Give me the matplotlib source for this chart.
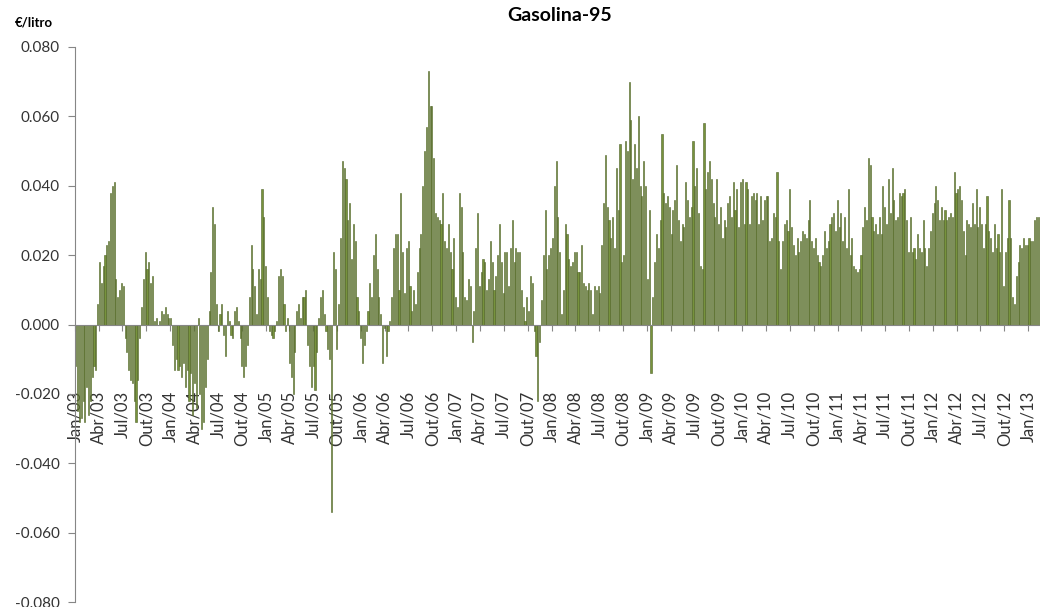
import numpy as np
import pandas as pd
import matplotlib
matplotlib.use("Agg")
import matplotlib.pyplot as plt
import matplotlib.dates as mdates

# weekly change in gasoline-95 price (EUR/litre), one list per year
v2003 = [-0.012, -0.025, -0.028, -0.027, -0.022, -0.028, -0.018, -0.026, -0.022, -0.015, -0.012, -0.013,
         0.006, 0.018, 0.012, 0.017, 0.020, 0.023, 0.024, 0.038, 0.040, 0.041, 0.013, 0.008, 0.010, 0.012, 0.011,
         -0.004, -0.008, -0.013, -0.016, -0.017, -0.022, -0.028, -0.016, -0.004,
         0.005, 0.013, 0.021, 0.016, 0.018, 0.012, 0.014, 0.001, 0.002, 0.000, 0.001, 0.004, 0.003, 0.005, 0.003, 0.002]
v2004 = [0.002,
         -0.006, -0.013, -0.010, -0.013, -0.012, -0.015, -0.011, -0.018, -0.013, -0.022,
         -0.014, -0.026, -0.017, -0.024, 0.002, -0.020, -0.030, -0.028, -0.018, -0.010,
         0.004, 0.015, 0.034, 0.029, 0.006,
         -0.002, 0.003, 0.006, -0.003, -0.009,
         0.004, 0.001, -0.003, -0.004, 0.004, 0.005, 0.001,
         -0.004, -0.012, -0.015, -0.012, -0.006,
         0.008, 0.023, 0.016, 0.011, 0.003, 0.016, 0.013, 0.039, 0.031]
v2005 = [0.017, 0.008,
         -0.002, -0.003, -0.004, -0.002, 0.001,
         0.014, 0.016, 0.014, 0.006,
         -0.002, 0.002,
         -0.011, -0.015, -0.020, -0.008,
         0.004, 0.006, 0.002, 0.008, 0.008, 0.010,
         -0.006, -0.012, -0.018, -0.012, -0.019, -0.008,
         0.002, 0.008, 0.010, 0.003,
         -0.002, -0.007, -0.010,
         -0.054,
         0.021, 0.016, -0.007, 0.006, 0.025, 0.047, 0.045, 0.042, 0.030, 0.035, 0.019, 0.029, 0.024, 0.008, 0.004]
v2006 = [-0.004, -0.011, -0.006, -0.002,
         0.004, 0.012, 0.008, 0.020, 0.026, 0.016, 0.008, 0.003,
         -0.011, -0.001, -0.009, -0.002,
         0.001, 0.008, 0.022, 0.026,
         0.026, 0.010, 0.038, 0.021, 0.009, 0.022, 0.024,
         0.011, 0.004, 0.010, 0.006,
         0.015, 0.022, 0.026, 0.040, 0.050,
         0.057, 0.073, 0.063, 0.063,
         0.048, 0.032, 0.031, 0.030,
         0.029, 0.038, 0.024, 0.022, 0.029, 0.021, 0.016, 0.025]
v2007 = [0.008, 0.005, 0.038, 0.034, 0.021,
         0.008, 0.007, 0.013, 0.011, -0.005,
         0.004, 0.022, 0.032, 0.011, 0.015,
         0.019, 0.018, 0.010, 0.013, 0.024,
         0.018, 0.010, 0.014, 0.020, 0.029, 0.018,
         0.009, 0.021, 0.021, 0.011, 0.022, 0.030,
         0.018, 0.022, 0.021, 0.021, 0.010,
         0.005, 0.001, 0.008, 0.004, 0.014, 0.012,
         -0.002, -0.009, -0.022, -0.005,
         0.007, 0.020, 0.033, 0.016, 0.020]
v2008 = [0.022, 0.025, 0.040, 0.047, 0.031,
         0.021, 0.003, 0.010, 0.029, 0.026,
         0.019, 0.017, 0.018, 0.021, 0.021,
         0.015, 0.015, 0.023, 0.012, 0.011, 0.010,
         0.012, 0.010, 0.003, 0.011, 0.010, 0.011, 0.009,
         0.023, 0.035, 0.049, 0.034, 0.030, 0.025,
         0.031, 0.022, 0.045, 0.033, 0.052, 0.018,
         0.020, 0.053, 0.050, 0.070, 0.059, 0.042,
         0.052, 0.045, 0.060, 0.040, 0.037, 0.047]
v2009 = [0.040, 0.013, 0.033, -0.014,
         0.008, 0.018, 0.026, 0.022, 0.030, 0.055, 0.038, 0.035,
         0.037, 0.034, 0.026, 0.033, 0.036, 0.046, 0.030,
         0.024, 0.029, 0.028, 0.041, 0.036,
         0.031, 0.034, 0.053, 0.040, 0.045,
         0.032, 0.017, 0.016, 0.058, 0.039, 0.044,
         0.047, 0.042, 0.035, 0.031, 0.042,
         0.029, 0.034, 0.025, 0.030, 0.028, 0.035, 0.037,
         0.031, 0.041, 0.033, 0.039, 0.028]
v2010 = [0.041, 0.042, 0.029, 0.041, 0.039, 0.029, 0.037, 0.038,
         0.036, 0.038, 0.029, 0.037, 0.030, 0.036, 0.037,
         0.037, 0.024, 0.025, 0.032, 0.031, 0.044,
         0.024, 0.016, 0.024, 0.029, 0.030,
         0.027, 0.039, 0.028, 0.023, 0.020, 0.025,
         0.021, 0.024, 0.027, 0.026, 0.025,
         0.030, 0.036, 0.024, 0.022, 0.025, 0.020,
         0.018, 0.017, 0.020, 0.027, 0.022,
         0.024, 0.029, 0.031, 0.032]
v2011 = [0.027, 0.036, 0.028, 0.032,
         0.024, 0.031, 0.022, 0.039, 0.020, 0.025, 0.017,
         0.016, 0.015, 0.016, 0.020, 0.028, 0.034, 0.030,
         0.048, 0.046, 0.031, 0.027, 0.029, 0.026, 0.031,
         0.026, 0.040, 0.034, 0.029, 0.042, 0.032, 0.045, 0.036,
         0.030, 0.031, 0.038, 0.037, 0.038, 0.039, 0.030,
         0.021, 0.031, 0.021, 0.022, 0.019, 0.026,
         0.022, 0.021, 0.030, 0.022, 0.017, 0.022]
v2012 = [0.027, 0.032, 0.035, 0.040, 0.036,
         0.030, 0.034, 0.030, 0.033, 0.030, 0.031,
         0.032, 0.031, 0.044, 0.038, 0.039, 0.040, 0.036,
         0.027, 0.020, 0.030, 0.029, 0.028, 0.035, 0.029,
         0.039, 0.028, 0.034, 0.029, 0.022, 0.029, 0.037,
         0.027, 0.025, 0.021, 0.029, 0.022, 0.026, 0.021,
         0.039, 0.011, 0.021, 0.025, 0.036, 0.025,
         0.008, 0.006, 0.014, 0.018, 0.023, 0.022, 0.025]
v2013 = [0.023, 0.023, 0.025, 0.024, 0.024, 0.030, 0.031, 0.031]

meses = ["Jan", "Abr", "Jul", "Out"]
y_ticks = [-0.08, -0.06, -0.04, -0.02, 0.0, 0.02, 0.04, 0.06, 0.08]

valores = np.array(v2003 + v2004 + v2005 + v2006 + v2007 + v2008 +
                   v2009 + v2010 + v2011 + v2012 + v2013)
semanas = pd.date_range("2003-01-03", periods=len(valores), freq="7D")
trimestres = pd.date_range("2003-01-01", "2013-01-01", freq="QS")
rotulos = ["%s/%02d" % (meses[(d.month - 1) // 3], d.year % 100) for d in trimestres]

plt.rcParams["font.family"] = ["Lato", "DejaVu Sans"]

fig = plt.figure(figsize=(10.4, 6.07), dpi=100)
ax = fig.add_axes([0.0721, 0.0082, 0.9279, 0.9144])

x = mdates.date2num(semanas)
ax.bar(x, valores, width=4.2, color="#77933c", edgecolor="#4f6228", linewidth=0.4, zorder=2)

# spines first: moving a spine resets the tick objects
for s in ["top", "right"]:
    ax.spines[s].set_visible(False)
ax.spines["bottom"].set_position(("data", 0))
ax.spines["bottom"].set_color("#868686")
ax.spines["bottom"].set_zorder(3)
ax.spines["left"].set_color("#868686")

ax.set_ylim(-0.08, 0.08)
inicio = mdates.date2num(pd.Timestamp("2002-12-31"))
ax.set_xlim(inicio, inicio + 3699)
ax.set_yticks(y_ticks)
ax.set_yticklabels(["%.3f" % v for v in y_ticks])

ax.set_xticks(mdates.date2num(trimestres))
ax.set_xticklabels(rotulos)

ax.tick_params(axis="y", direction="out", length=5, color="#868686",
               labelsize=11, labelcolor="#333333", pad=6)
ax.tick_params(axis="x", direction="out", length=4, color="#868686",
               labelsize=12, labelcolor="#333333", pad=44, labelrotation=90)

fig.text(0.538, 0.975, "Gasolina-95", ha="center", va="center",
         fontsize=14, fontweight="bold", color="#000000")
fig.text(0.014, 0.963, "€/litro", ha="left", va="center",
         fontsize=9.5, fontweight="bold", color="#000000")

fig.savefig("out.png", dpi=100)
